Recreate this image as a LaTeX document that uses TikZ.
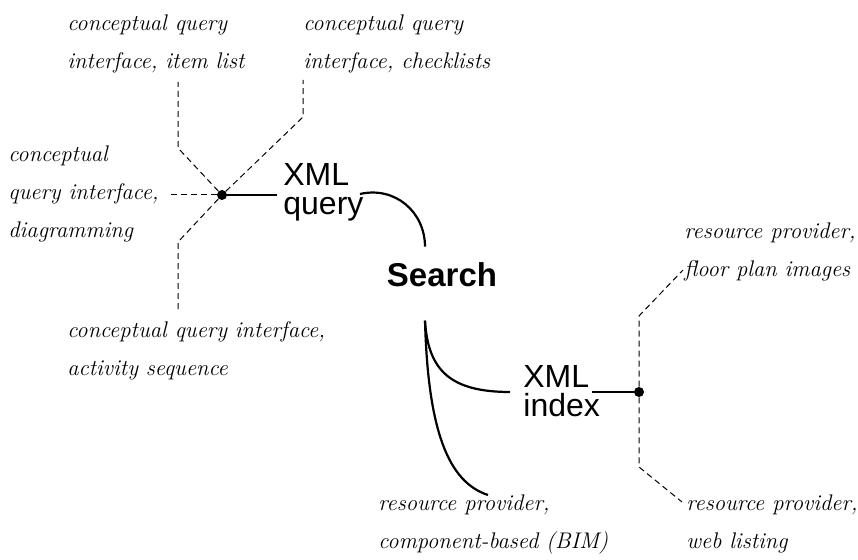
\documentclass[tikz,border=0pt]{standalone}
\usepackage{fontspec}
\newfontfamily\helv{Liberation Sans}
\usetikzlibrary{positioning,calc}

\begin{document}
\begin{tikzpicture}[x=0.5pt,y=-0.5pt,
  lbl/.style={align=left, inner sep=0pt, anchor=base west, font=\fontsize{11.3}{19.2}\selectfont\itshape},
  proto/.style={align=left, inner sep=0pt, anchor=base west, font=\fontsize{16}{14.5}\selectfont\helv},
  link/.style={line width=1.1pt},
  leader/.style={dash pattern=on 3pt off 2pt, line width=0.5pt},
  hub/.style={circle, fill, inner sep=0pt, minimum size=5pt}
]
  \useasboundingbox (0,0) rectangle (858,560);

  % centre and the two protocols (anchors sit on the last line)
  \node[inner sep=0pt, anchor=base, font=\fontsize{16.5}{16}\selectfont\helv\bfseries] (search) at (442,287) {Search};
  \node[proto] (xmlq) at (283,215) {XML\\query};
  \node[proto] (xmli) at (523,417) {XML\\index};
  \node[hub] (qdot) at (222,195) {};
  \node[hub] (idot) at (639,392) {};

  % query side labels
  \node[lbl] (itemlist) at (67,69) {conceptual query\\interface, item list};
  \node[lbl] (checklist) at (303,69) {conceptual query\\interface, checklists};
  \node[lbl] (diagram) at (8,238) {conceptual\\query interface,\\diagramming};
  \node[lbl] (activity) at (67,376) {conceptual query interface,\\activity sequence};

  % index side labels
  \node[lbl] (floorplan) at (684,277) {resource provider,\\floor plan images};
  \node[lbl] (bim) at (378,549) {resource provider,\\component-based (BIM)};
  \node[lbl] (weblist) at (686,549) {resource provider,\\web listing};

  % solid links
  \draw[link] (qdot) -- ([xshift=-3pt]qdot -| xmlq.west);
  \draw[link] (360,194) .. controls (395,186) and (425,212) .. ($(search.north)+(-17,-16)$);
  \coordinate (sfoot) at ($(search.south)+(-17,33)$);
  \draw[link] (sfoot) .. controls (428,370) and (450,392) .. ($(xmli.west |- idot)+(-13,0)$);
  \draw[link] (sfoot) .. controls (428,430) and (448,482) .. (488,495);
  \draw[link] ($(xmli.east |- idot)+(-8,0)$) -- (idot);

  % dashed leaders
  \draw[leader] (qdot) -- ++(-54,0);
  \draw[leader] (qdot) -- ++(-44,-47) -- ++(0,-66);
  \draw[leader] (qdot) -- ++(81,-78) -- ++(0,-37);
  \draw[leader] (qdot) -- ++(-44,47) -- ++(0,70);
  \draw[leader] (idot) -- ++(0,-76) -- ++(44,-46);
  \draw[leader] (idot) -- ++(0,75) -- ++(43,35);
\end{tikzpicture}
\end{document}
